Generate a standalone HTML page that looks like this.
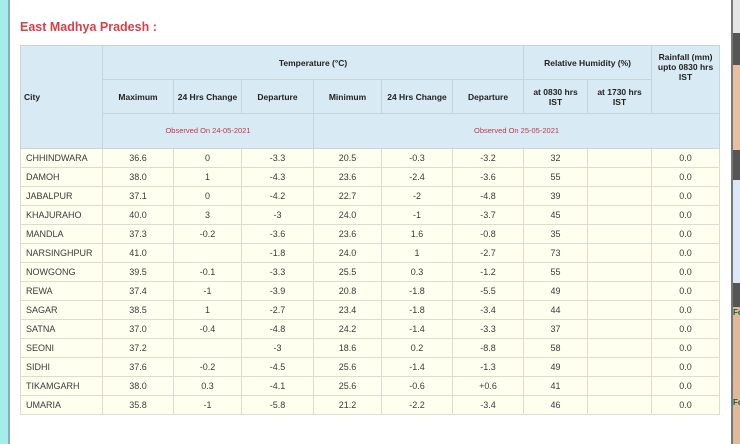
<!DOCTYPE html>
<html><head><meta charset="utf-8"><style>
*{margin:0;padding:0;box-sizing:border-box}
body{width:740px;height:444px;overflow:hidden;background:#fff;position:relative;font-family:"Liberation Sans",sans-serif}
.l{position:absolute;left:0;top:0;width:8px;height:444px;background:#a6ecec}
.lb{position:absolute;left:8px;top:0;width:2px;height:444px;background:#9aa}
.r{position:absolute;left:731px;top:0;width:2px;height:444px;background:#777}
.s{position:absolute;left:733px;width:7px}
h1{position:absolute;left:20px;top:20px;font-size:12.5px;color:#d8404a;font-weight:bold}
table{position:absolute;left:20px;top:45px;border-collapse:collapse;table-layout:fixed;width:699px}
td{border:1px solid #c9d4d8;text-align:center;font-size:9px;color:#3a3a3a;height:19px;padding:0;line-height:10px}
.h td{background:#d8eaf4;color:#222;font-weight:bold;font-size:8.5px;height:34px}
.h td.o{color:#c0394a;font-weight:normal;font-size:7.5px;height:35px}
.d td{background:#fffff0;border-color:#dedccc}
.d td:first-child{text-align:left;padding-left:5px}
td.c{text-align:left;padding-left:3px}
</style></head><body>
<div class="l"></div><div class="lb"></div><div class="r"></div>
<div class="s" style="top:0;height:33px;background:#e4e4e4"></div>
<div class="s" style="top:33px;height:32px;background:#555"></div>
<div class="s" style="top:65px;height:85px;background:#e8c0a0"></div>
<div class="s" style="top:150px;height:30px;background:#555"></div>
<div class="s" style="top:180px;height:103px;background:#dbe8f8"></div>
<div class="s" style="top:283px;height:24px;background:#555"></div>
<div class="s" style="top:307px;height:137px;background:#e2b898"></div>
<div style="position:absolute;left:733px;top:308px;font-size:8px;color:#063;font-weight:bold">Fo</div>
<div style="position:absolute;left:733px;top:398px;font-size:8px;color:#063;font-weight:bold">Fo</div>
<h1>East Madhya Pradesh :</h1>
<table>
<colgroup><col style="width:82px"><col style="width:71px"><col style="width:68px"><col style="width:72px"><col style="width:68px"><col style="width:71px"><col style="width:71px"><col style="width:64px"><col style="width:64px"><col style="width:68px"></colgroup>
<tr class="h"><td rowspan="3" class="c">City</td><td colspan="6">Temperature (°C)</td><td colspan="2">Relative Humidity (%)</td><td rowspan="2" style="vertical-align:top;padding-top:6px">Rainfall (mm)<br>upto 0830 hrs<br>IST</td></tr>
<tr class="h"><td>Maximum</td><td>24 Hrs Change</td><td>Departure</td><td>Minimum</td><td>24 Hrs Change</td><td>Departure</td><td>at 0830 hrs<br>IST</td><td>at 1730 hrs<br>IST</td></tr>
<tr class="h"><td colspan="3" class="o">Observed On 24-05-2021</td><td colspan="6" class="o">Observed On 25-05-2021</td></tr>
<tr class="d"><td>CHHINDWARA</td><td>36.6</td><td>0</td><td>-3.3</td><td>20.5</td><td>-0.3</td><td>-3.2</td><td>32</td><td></td><td>0.0</td></tr>
<tr class="d"><td>DAMOH</td><td>38.0</td><td>1</td><td>-4.3</td><td>23.6</td><td>-2.4</td><td>-3.6</td><td>55</td><td></td><td>0.0</td></tr>
<tr class="d"><td>JABALPUR</td><td>37.1</td><td>0</td><td>-4.2</td><td>22.7</td><td>-2</td><td>-4.8</td><td>39</td><td></td><td>0.0</td></tr>
<tr class="d"><td>KHAJURAHO</td><td>40.0</td><td>3</td><td>-3</td><td>24.0</td><td>-1</td><td>-3.7</td><td>45</td><td></td><td>0.0</td></tr>
<tr class="d"><td>MANDLA</td><td>37.3</td><td>-0.2</td><td>-3.6</td><td>23.6</td><td>1.6</td><td>-0.8</td><td>35</td><td></td><td>0.0</td></tr>
<tr class="d"><td>NARSINGHPUR</td><td>41.0</td><td></td><td>-1.8</td><td>24.0</td><td>1</td><td>-2.7</td><td>73</td><td></td><td>0.0</td></tr>
<tr class="d"><td>NOWGONG</td><td>39.5</td><td>-0.1</td><td>-3.3</td><td>25.5</td><td>0.3</td><td>-1.2</td><td>55</td><td></td><td>0.0</td></tr>
<tr class="d"><td>REWA</td><td>37.4</td><td>-1</td><td>-3.9</td><td>20.8</td><td>-1.8</td><td>-5.5</td><td>49</td><td></td><td>0.0</td></tr>
<tr class="d"><td>SAGAR</td><td>38.5</td><td>1</td><td>-2.7</td><td>23.4</td><td>-1.8</td><td>-3.4</td><td>44</td><td></td><td>0.0</td></tr>
<tr class="d"><td>SATNA</td><td>37.0</td><td>-0.4</td><td>-4.8</td><td>24.2</td><td>-1.4</td><td>-3.3</td><td>37</td><td></td><td>0.0</td></tr>
<tr class="d"><td>SEONI</td><td>37.2</td><td></td><td>-3</td><td>18.6</td><td>0.2</td><td>-8.8</td><td>58</td><td></td><td>0.0</td></tr>
<tr class="d"><td>SIDHI</td><td>37.6</td><td>-0.2</td><td>-4.5</td><td>25.6</td><td>-1.4</td><td>-1.3</td><td>49</td><td></td><td>0.0</td></tr>
<tr class="d"><td>TIKAMGARH</td><td>38.0</td><td>0.3</td><td>-4.1</td><td>25.6</td><td>-0.6</td><td>+0.6</td><td>41</td><td></td><td>0.0</td></tr>
<tr class="d"><td>UMARIA</td><td>35.8</td><td>-1</td><td>-5.8</td><td>21.2</td><td>-2.2</td><td>-3.4</td><td>46</td><td></td><td>0.0</td></tr>
</table>
</body></html>
